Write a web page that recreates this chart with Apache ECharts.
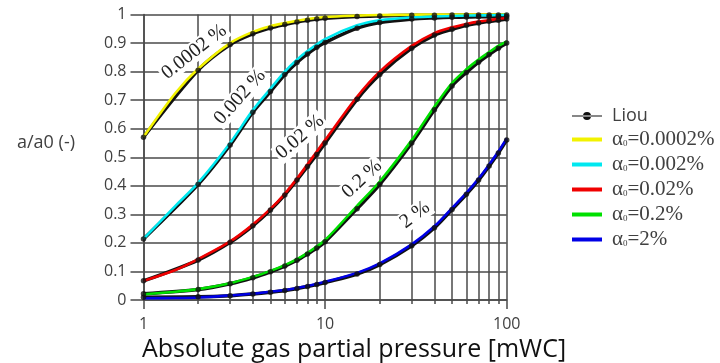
<!DOCTYPE html>
<html>
<head>
<meta charset="utf-8">
<script src="https://cdn.jsdelivr.net/npm/echarts@6/dist/echarts.min.js"></script>
<style>
  html, body { margin: 0; padding: 0; background: #fff; }
  #chart { width: 720px; height: 363px; }
</style>
</head>
<body>
<div id="chart"></div>
<script>
// Absolute gas partial pressure [mWC] at which the model curves are sampled
const pressure = [1, 1.5, 2, 3, 4, 5, 6, 7, 8, 10, 15, 20, 30, 40, 50, 60, 70, 80, 90, 100];

// Model curves a/a0 for each initial gas fraction α0
const alpha00002 = [0.571, 0.725, 0.81, 0.90, 0.939, 0.959, 0.970, 0.978, 0.984, 0.991, 0.996, 0.998, 0.999, 1, 1, 1, 1, 1, 1, 1];
const alpha0002  = [0.214, 0.33, 0.41, 0.55, 0.665, 0.74, 0.80, 0.842, 0.872, 0.914, 0.962, 0.980, 0.990, 0.993, 0.995, 0.996, 0.997, 0.997, 0.998, 0.998];
const alpha002   = [0.067, 0.105, 0.143, 0.205, 0.264, 0.319, 0.372, 0.425, 0.475, 0.56, 0.712, 0.80, 0.89, 0.935, 0.955, 0.967, 0.975, 0.98, 0.985, 0.988];
const alpha02    = [0.020, 0.029, 0.038, 0.059, 0.081, 0.102, 0.122, 0.143, 0.165, 0.21, 0.33, 0.415, 0.56, 0.677, 0.76, 0.808, 0.842, 0.868, 0.89, 0.906];
const alpha2     = [0.006, 0.007, 0.009, 0.016, 0.022, 0.029, 0.035, 0.042, 0.049, 0.064, 0.095, 0.128, 0.195, 0.258, 0.322, 0.375, 0.425, 0.474, 0.52, 0.566];

// Liou reference data
const liouPressure = [1, 2, 3, 4, 5, 6, 7, 8, 9, 10, 15, 20, 30, 40, 50, 60, 70, 80, 90, 100];
const liou00002 = [0.57, 0.805, 0.895, 0.933, 0.953, 0.965, 0.974, 0.980, 0.984, 0.987, 0.993, 0.995, 0.997, 0.997, 0.998, 0.998, 0.998, 0.998, 0.998, 0.998];
const liou0002  = [0.214, 0.405, 0.543, 0.658, 0.73, 0.79, 0.832, 0.862, 0.885, 0.902, 0.952, 0.972, 0.984, 0.988, 0.99, 0.991, 0.992, 0.992, 0.993, 0.993];
const liou002   = [0.067, 0.14, 0.202, 0.26, 0.315, 0.368, 0.42, 0.468, 0.51, 0.55, 0.703, 0.79, 0.882, 0.928, 0.948, 0.962, 0.970, 0.976, 0.980, 0.984];
const liou02    = [0.022, 0.037, 0.057, 0.078, 0.099, 0.119, 0.139, 0.161, 0.182, 0.204, 0.32, 0.405, 0.55, 0.666, 0.75, 0.797, 0.833, 0.86, 0.882, 0.9];
const liou2     = [0.010, 0.011, 0.015, 0.021, 0.027, 0.033, 0.040, 0.047, 0.054, 0.061, 0.091, 0.124, 0.19, 0.253, 0.317, 0.37, 0.42, 0.469, 0.515, 0.56];

// Series names and colours
const modelNames  = ['α0=0.0002%', 'α0=0.002%', 'α0=0.02%', 'α0=0.2%', 'α0=2%'];
const modelColors = ['#f2f200', '#00e8f0', '#f00000', '#00e000', '#0000e6'];
const modelValues = [alpha00002, alpha0002, alpha002, alpha02, alpha2];
const liouValues  = [liou00002, liou0002, liou002, liou02, liou2];

// Tick values of the logarithmic pressure axis
const majorTicks = [1, 10, 100];
const minorTicks = [2, 3, 4, 5, 6, 7, 8, 9, 20, 30, 40, 50, 60, 70, 80, 90];

// Curve annotations: text, anchor (pressure, a/a0), rotation in degrees
const curveLabels  = ['0.0002 %', '0.002 %', '0.02 %', '0.2 %', '2 %'];
const labelAtP     = [1.90, 3.40, 7.27, 15.96, 31.3];
const labelAtA     = [0.869, 0.711, 0.571, 0.424, 0.298];
const labelAngle   = [38, 48, 41, 43, 37];

const pairs = (xs, ys) => xs.map((x, i) => [x, ys[i]]);

const gridColor = '#4a4a4a';
const textGrey = '#404040';

// Legend glyphs: a thick bar for the model curves, a thin line with a dot for Liou
const barIcon  = 'path://M0,0H30V4H0Z';
const liouIcon = 'path://M0,5.4H30V6.6H0Z M11,6A4,4 0 1,0 19,6A4,4 0 1,0 11,6Z';

const series = [];
modelValues.forEach((vals, k) => {
  series.push({
    name: 'Liou', type: 'line', xAxisIndex: 0,
    data: pairs(liouPressure, liouValues[k]),
    smooth: 0.3,
    symbol: 'circle', symbolSize: 5, showSymbol: false,
    itemStyle: { color: '#111' },
    lineStyle: { color: '#111', width: 3.5 },
    clip: false, z: 2, silent: true
  });
  series.push({
    name: modelNames[k], type: 'line', xAxisIndex: 0,
    data: pairs(pressure, vals),
    smooth: 0.3,
    symbol: 'none',
    itemStyle: { color: modelColors[k] },
    lineStyle: { color: modelColors[k], width: 2.6 },
    clip: false, z: 3, silent: true
  });
  series.push({
    name: 'Liou', type: 'scatter', xAxisIndex: 0,
    data: pairs(liouPressure, liouValues[k]),
    symbol: 'circle', symbolSize: 5.5,
    itemStyle: { color: '#111' },
    clip: false, z: 4, silent: true
  });
});

const chart = echarts.init(document.getElementById('chart'), null, { renderer: 'canvas' });

chart.setOption({
  animation: false,
  backgroundColor: '#fff',
  title: [
    {
      text: 'Absolute gas partial pressure [mWC]',
      left: 137, top: 332,
      textStyle: { fontFamily: 'Open Sans', fontSize: 25, fontWeight: 'normal', color: '#111' }
    },
    {
      text: 'a/a0 (-)',
      left: 12, top: 129,
      textStyle: { fontFamily: 'Open Sans', fontSize: 18, fontWeight: 'normal', color: textGrey }
    }
  ],
  grid: { left: 143.5, top: 14.5, width: 363.2, height: 285.5, containLabel: false },
  legend: {
    orient: 'vertical',
    left: 567, top: 102,
    itemWidth: 30, itemHeight: 12, itemGap: 4,
    data: [
      { name: 'Liou', icon: liouIcon, itemStyle: { color: '#111' } },
      ...modelNames.map((n, k) => ({ name: n, icon: barIcon, itemStyle: { color: modelColors[k] } }))
    ],
    formatter: name => {
      if (name === 'Liou') return '{g|}{l|Liou}';
      return '{g|}{a|α}{s|0}{a|' + name.slice(2) + '}';
    },
    textStyle: {
      rich: {
        g: { width: 5 },
        l: { fontFamily: 'Open Sans', fontSize: 18, color: textGrey, lineHeight: 18 },
        a: { fontFamily: 'Liberation Serif', fontSize: 21, color: textGrey, lineHeight: 18 },
        s: { fontFamily: 'Liberation Serif', fontSize: 9, color: textGrey, lineHeight: 18, verticalAlign: 'bottom', padding: [7, 0, 0, 0] }
      }
    }
  },
  xAxis: [
    {
      type: 'log', logBase: 10, min: 1, max: 100, position: 'bottom',
      axisLine: { show: true, onZero: false, lineStyle: { color: gridColor, width: 1.5 } },
      axisTick: { show: true, length: 4, customValues: minorTicks, lineStyle: { color: gridColor, width: 1.5 } },
      axisLabel: { show: false },
      splitLine: { show: true, lineStyle: { color: gridColor, width: 1.5 } }
    },
    {
      type: 'log', logBase: 10, min: 1, max: 100, position: 'bottom',
      axisLine: { show: false, onZero: false },
      axisTick: { show: true, length: 9, customValues: majorTicks, lineStyle: { color: gridColor, width: 1.5 } },
      axisLabel: { show: true, customValues: majorTicks, margin: 16, fontFamily: 'Open Sans', fontSize: 16, color: textGrey },
      splitLine: { show: true, lineStyle: { color: gridColor, width: 1.5 } }
    }
  ],
  yAxis: {
    type: 'value', min: 0, max: 1, interval: 0.1,
    axisLine: { show: true, lineStyle: { color: gridColor, width: 1.5 } },
    axisTick: { show: true, length: 13, lineStyle: { color: gridColor, width: 1.5 } },
    axisLabel: { margin: 17, fontFamily: 'Open Sans', fontSize: 16, color: textGrey },
    splitLine: { show: true, lineStyle: { color: gridColor, width: 1.5 } }
  },
  series
});

// Curve annotations placed through the axes' own coordinate conversion
chart.setOption({
  graphic: curveLabels.map((txt, k) => {
    const [px, py] = chart.convertToPixel({ gridIndex: 0 }, [labelAtP[k], labelAtA[k]]);
    return {
      type: 'text', x: px, y: py, z: 1,
      rotation: labelAngle[k] * Math.PI / 180,
      style: {
        text: txt,
        font: '20px "Liberation Serif"',
        fill: '#222',
        align: 'center', verticalAlign: 'middle',
        backgroundColor: '#fff',
        padding: [0, 2]
      },
      silent: true
    };
  })
});
</script>
</body>
</html>
